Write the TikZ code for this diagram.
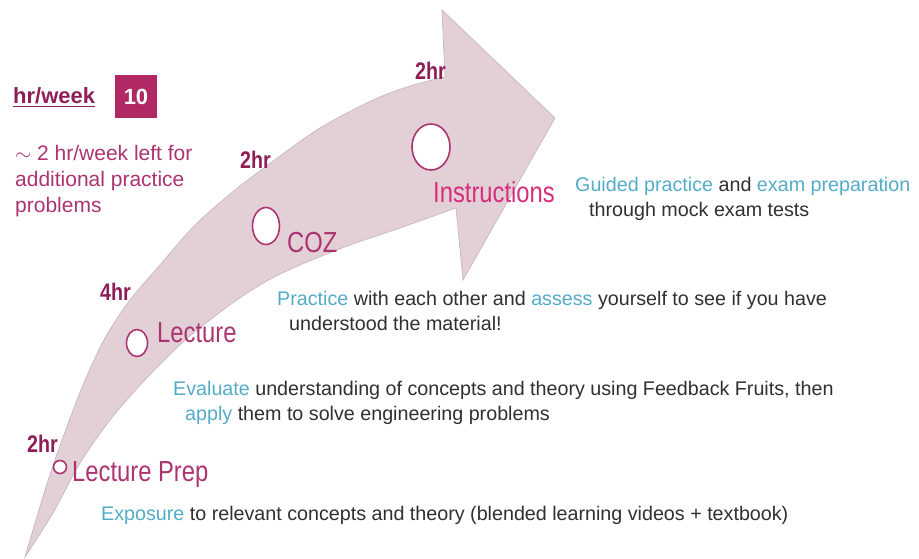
\documentclass[tikz,border=0pt]{standalone}
\usepackage{fontspec}
\setmainfont{Liberation Sans}
\newfontfamily\narrowsans{Liberation Sans}[FakeStretch=0.82]
\usepackage{tikz}
\usetikzlibrary{shapes.geometric}

\definecolor{arrowpink}{RGB}{227,207,214}
\definecolor{arrowedge}{RGB}{200,184,190}
\definecolor{plum}{RGB}{172,52,112}
\definecolor{darkplum}{RGB}{142,30,88}
\definecolor{boxplum}{RGB}{176,40,100}
\definecolor{hotpink}{RGB}{214,46,124}
\definecolor{keyblue}{RGB}{84,172,200}
\definecolor{bodygrey}{RGB}{48,48,48}

\newcommand{\kword}[1]{\textcolor{keyblue}{#1}}

\begin{document}
\begin{tikzpicture}[x=1pt, y=-1pt,
    every node/.style={inner sep=0pt, anchor=base west},
    stop/.style={ellipse, draw=plum, fill=white, line width=1.6pt,
                 anchor=center},
    stagename/.style={text=plum, font=\narrowsans\fontsize{29}{32}\selectfont},
    hours/.style={text=darkplum,
                  font=\narrowsans\bfseries\fontsize{24}{28}\selectfont},
    info/.style={text=bodygrey, font=\fontsize{19.7}{24}\selectfont},
    note/.style={text=plum, font=\fontsize{21}{25}\selectfont}]

  \fill[white] (0,0) rectangle (919,559);
  \useasboundingbox (0,0) rectangle (919,559);

  % the big curved arrow
  \path[fill=arrowpink, draw=arrowedge, line width=0.7pt]
    plot[smooth] coordinates {(25,557) (45,490) (62,440) (83,385) (105,338)
      (130,300) (160,265) (195,225) (235,190) (272,162) (320,128) (373,100)
      (410,86) (445,77)}
    -- (442,10) -- (555,118) -- (463,280)
    -- plot[smooth] coordinates {(456,208) (400,228) (350,245) (300,265)
      (265,282) (227,307) (183,342) (143,382) (110,420) (80,463) (53,513)
      (25,557)}
    -- cycle;

  % stops along the arrow
  \foreach \n/\x/\y/\w/\h in {prep/60/467/13/13, lect/137/343/21/27,
      coz/266/226/27/37, instr/431/147/38/46} {
    \node[stop, minimum width=\w, minimum height=\h] (\n) at (\x,\y) {};
  }

  \foreach \n/\x/\y/\t in {prephr/27/452/2hr, lecthr/100/300/4hr,
      cozhr/240/168/2hr, instrhr/415/80/2hr} {
    \node[hours] (\n) at (\x,\y) {\t};
  }

  \node[stagename] (prepname) at (72,481) {Lecture Prep};
  \node[stagename] (lectname) at (157,342) {Lecture};
  \node[stagename] (cozname) at (287,252) {COZ};
  \node[stagename, text=hotpink] (instrname) at (433,203) {Instructions};

  % what happens in each stage
  \node[info] (prepinfo) at (101,520)
    {\kword{Exposure} to relevant concepts and theory (blended learning videos + textbook)};
  \node[info] (lectinfo) at (173,395)
    {\kword{Evaluate} understanding of concepts and theory using Feedback Fruits, then};
  \node[info] (lectinfob) at (185,420)
    {\kword{apply} them to solve engineering problems};
  \node[info] (cozinfo) at (277,305)
    {\kword{Practice} with each other and \kword{assess} yourself to see if you have};
  \node[info] (cozinfob) at (289,330) {understood the material!};
  \node[info] (instrinfo) at (575,192)
    {\kword{Guided practice} and \kword{exam preparation}};
  \node[info] (instrinfob) at (589,217) {through mock exam tests};

  % weekly load
  \node[text=darkplum, font=\bfseries\fontsize{22}{26}\selectfont]
    (weekhr) at (13,104) {\underline{hr/week}};
  \node[fill=boxplum, text=white, anchor=center,
        minimum width=42, minimum height=43,
        font=\bfseries\fontsize{22}{26}\selectfont] (weekbox) at (136,97) {10};
  \node[note] (spare) at (15,161) {$\sim$ 2 hr/week left for};
  \node[note] (spareb) at (15,186) {additional practice};
  \node[note] (sparec) at (15,212) {problems};
\end{tikzpicture}
\end{document}
